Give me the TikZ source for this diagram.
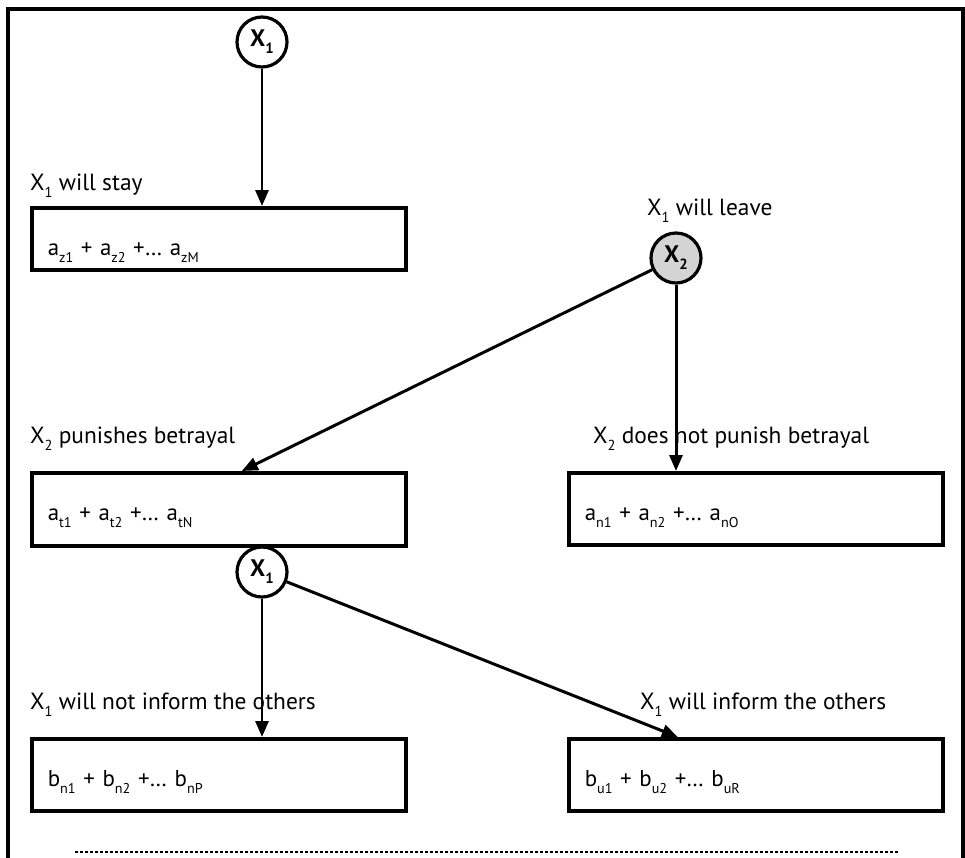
\documentclass[tikz,border=0pt]{standalone}
\usepackage{fontspec}
\setmainfont{PT Sans}
\usetikzlibrary{positioning,arrows.meta}
\definecolor{nodegray}{RGB}{212,212,212}
\newcommand{\lo}[1]{\raisebox{-0.3em}{\scalebox{0.62}{#1}}}
\tikzset{
  chance/.style={circle,draw,line width=3.2pt,minimum size=50bp,inner sep=0pt,font=\fontsize{24}{26}\selectfont\bfseries},
  payoff/.style={draw,line width=3.6pt,anchor=north west,text width=342bp,inner xsep=16bp,inner ysep=0pt,text height=48bp,align=left,font=\fontsize{23}{26}\selectfont},
  lbl/.style={anchor=base west,inner sep=0pt,font=\fontsize{23.5}{27}\selectfont},
  arr/.style={line width=3pt,-{Triangle[length=16bp,width=13bp]}},
  frame/.style={line width=3.6pt}
}
\begin{document}
\begin{tikzpicture}[x=1bp,y=-1bp]
  \useasboundingbox (0,0) rectangle (965,858);
  \draw[frame] (8,858) -- (8,9) -- (963,9) -- (963,858);
  % decision nodes
  \node[chance] (xa) at (262,42) {X\lo{1}};
  \node[chance,fill=nodegray] (xb) at (676,258) {X\lo{2}};
  \node[chance] (xc) at (262,572) {X\lo{1}};
  % payoff boxes
  \node[payoff,text depth=14bp] (stay) at (30,206) {a\lo{z1} + a\lo{z2} +… a\lo{zM}};
  \node[payoff,text depth=25bp] (pun) at (30,471) {a\lo{t1} + a\lo{t2} +… a\lo{tN}};
  \node[payoff,text depth=24bp] (nopun) at (567,471) {a\lo{n1} + a\lo{n2} +… a\lo{nO}};
  \node[payoff,text depth=24bp] (noinf) at (30,737) {b\lo{n1} + b\lo{n2} +… b\lo{nP}};
  \node[payoff,text depth=24bp] (inf) at (567,737) {b\lo{u1} + b\lo{u2} +… b\lo{uR}};
  % labels
  \node[lbl] (lstay) at (30,190) {X\lo{1} will stay};
  \node[lbl] (lleave) at (647,215) {X\lo{1} will leave};
  \node[lbl] (lpun) at (30,443) {X\lo{2} punishes betrayal};
  \node[lbl] (lnopun) at (593,443) {X\lo{2} does not punish betrayal};
  \node[lbl] (lnoinf) at (30,709) {X\lo{1} will not inform the others};
  \node[lbl] (linf) at (640,709) {X\lo{1} will inform the others};
  % arrows
  \draw[arr] (xa) -- (xa |- stay.north);
  \draw[arr] (xb) -- ([xshift=23bp]pun.north);
  \draw[arr] (xb) -- (xb |- nopun.north);
  \draw[arr] (xc) -- (xc |- noinf.north);
  \draw[arr] (xc) -- ([xshift=-78bp]inf.north);
  \draw[line width=2.5bp,dash pattern=on 2.5bp off 2.5bp] (75,852) -- (898,852);
\end{tikzpicture}
\end{document}
